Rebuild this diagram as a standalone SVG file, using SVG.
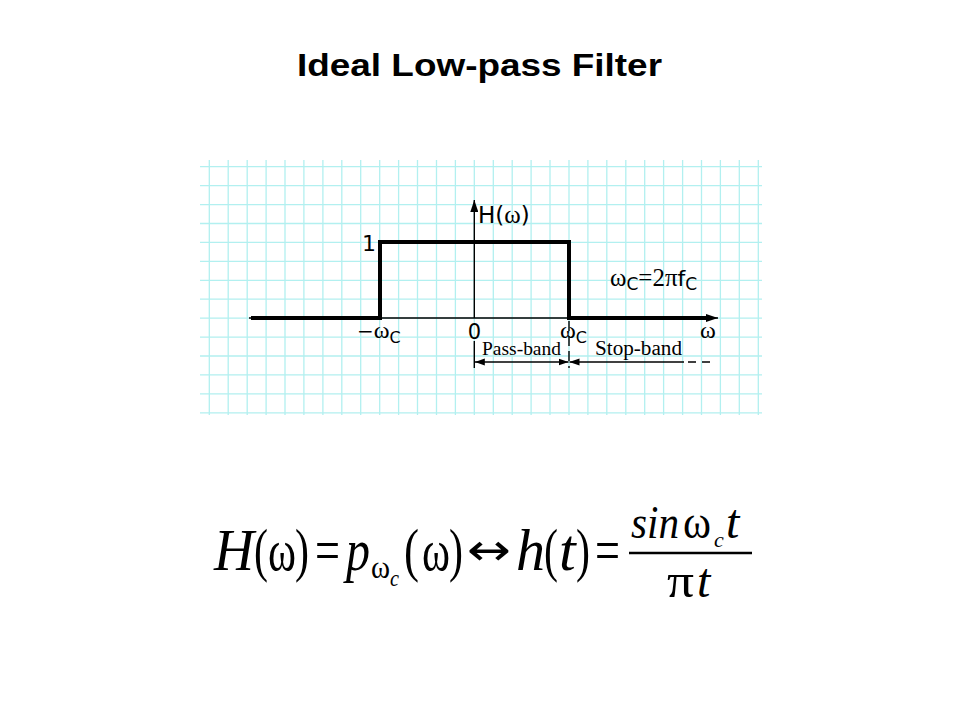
<svg xmlns="http://www.w3.org/2000/svg" width="960" height="720" viewBox="0 0 960 720">
<style>
.grid{stroke:#b2f0f0;stroke-width:1.3;fill:none}
.thin{stroke:#000;stroke-width:1.4;fill:none}
.thick{stroke:#000;stroke-width:4;fill:none;stroke-linejoin:miter;stroke-linecap:square}
.sans{font-family:"DejaVu Sans","Liberation Sans",sans-serif;fill:#000}
.serif{font-family:"Liberation Serif","Times New Roman",serif;fill:#000}
.it{font-family:"Liberation Serif","Times New Roman",serif;font-style:italic;fill:#000}
.title{font-family:"Liberation Sans",Arial,sans-serif;font-weight:bold;font-size:31px;fill:#000}
</style>
<defs>
<marker id="axArrow" markerUnits="userSpaceOnUse" markerWidth="12" markerHeight="8" refX="12" refY="4" orient="auto"><path d="M0,0 L12,4 L0,8 z" fill="#000"/></marker>
<marker id="dimArrow" markerUnits="userSpaceOnUse" markerWidth="10" markerHeight="8" refX="10" refY="4" orient="auto-start-reverse"><path d="M0,0.6 L10,4 L0,7.4 z" fill="#000"/></marker>
</defs>
<rect width="960" height="720" fill="#fff"/>
<text id="title" class="title" x="297" y="76" textLength="365" lengthAdjust="spacingAndGlyphs">Ideal Low-pass Filter</text>

<g id="grid" class="grid">
<path d="M209.3,160V415M228.2,160V415M247.2,160V415M266.1,160V415M285,160V415M303.9,160V415M322.9,160V415M341.8,160V415M360.7,160V415M379.7,160V415M398.6,160V415M417.5,160V415M436.5,160V415M455.4,160V415M474.3,160V415M493.3,160V415M512.2,160V415M531.1,160V415M550,160V415M569,160V415M587.9,160V415M606.8,160V415M625.8,160V415M644.7,160V415M663.6,160V415M682.6,160V415M701.5,160V415M720.4,160V415M739.3,160V415M758.3,160V415"/>
<path d="M200,166.7H762M200,185.6H762M200,204.6H762M200,223.5H762M200,242.4H762M200,261.4H762M200,280.3H762M200,299.2H762M200,318.1H762M200,337.1H762M200,356H762M200,374.9H762M200,393.9H762M200,412.8H762"/>
</g>

<g id="connectors">
<line class="thin" x1="249" y1="318" x2="718" y2="318" marker-end="url(#axArrow)"/>
<line class="thin" x1="474.3" y1="318" x2="474.3" y2="200" marker-end="url(#axArrow)"/>
<path class="thick" d="M253,318H380V242H569V318H706"/>
<line class="thin" x1="474.3" y1="341" x2="474.3" y2="368"/>
<line class="thin" x1="569" y1="321" x2="569" y2="368" stroke-dasharray="10 5"/>
<line class="thin" x1="474.8" y1="362" x2="568.5" y2="362" marker-start="url(#dimArrow)" marker-end="url(#dimArrow)"/>
<line class="thin" x1="569.5" y1="362" x2="684" y2="362" marker-start="url(#dimArrow)"/>
<line class="thin" x1="688" y1="362" x2="716" y2="362" stroke-dasharray="8 6"/>
</g>

<g id="labels">
<text class="sans" x="376" y="251" font-size="22" text-anchor="end">1</text>
<text class="sans" x="478" y="223" font-size="23">H(<tspan class="serif" font-size="25">ω</tspan>)</text>
<text class="sans" x="474.5" y="339" font-size="21" text-anchor="middle">0</text>
<text class="sans" x="357" y="338" font-size="20">−<tspan class="serif" font-size="24">ω</tspan><tspan font-size="16" dy="5">C</tspan></text>
<text class="serif" x="560" y="338" font-size="24">ω<tspan class="sans" font-size="16" dy="5">C</tspan></text>
<text class="serif" x="700" y="338" font-size="24">ω</text>
<text class="serif" x="610" y="286" font-size="25">ω<tspan class="sans" font-size="17" dy="4">C</tspan><tspan dy="-4">=2π</tspan><tspan class="sans" font-size="22">f</tspan><tspan class="sans" font-size="17" dy="4">C</tspan></text>
<text class="serif" x="482" y="355" font-size="19.5" textLength="79" lengthAdjust="spacingAndGlyphs">Pass-band</text>
<text class="serif" x="595" y="355" font-size="20" textLength="87" lengthAdjust="spacingAndGlyphs">Stop-band</text>
</g>

<g id="formula">
<text class="it" x="214" y="570" font-size="60" textLength="40" lengthAdjust="spacingAndGlyphs">H</text>
<text class="serif" x="254" y="570" font-size="60" textLength="14" lengthAdjust="spacingAndGlyphs">(</text>
<text class="serif" x="268" y="570" font-size="60" textLength="28" lengthAdjust="spacingAndGlyphs">ω</text>
<text class="serif" x="295" y="570" font-size="60" textLength="14" lengthAdjust="spacingAndGlyphs">)</text>
<text class="serif" x="315" y="570" font-size="60" textLength="25" lengthAdjust="spacingAndGlyphs">=</text>
<text class="it" x="346" y="570" font-size="60" textLength="24" lengthAdjust="spacingAndGlyphs">p</text>
<text class="serif" x="371" y="578" font-size="32" textLength="19" lengthAdjust="spacingAndGlyphs">ω</text>
<text class="it" x="390" y="586" font-size="24" textLength="9" lengthAdjust="spacingAndGlyphs">c</text>
<text class="serif" x="404" y="570" font-size="60" textLength="15" lengthAdjust="spacingAndGlyphs">(</text>
<text class="serif" x="422" y="570" font-size="60" textLength="28" lengthAdjust="spacingAndGlyphs">ω</text>
<text class="serif" x="449" y="570" font-size="60" textLength="14" lengthAdjust="spacingAndGlyphs">)</text>
<text class="sans" x="467" y="565" font-size="44" textLength="44" lengthAdjust="spacingAndGlyphs">↔</text>
<text class="it" x="516" y="570" font-size="60" textLength="29" lengthAdjust="spacingAndGlyphs">h</text>
<text class="serif" x="544" y="570" font-size="60" textLength="14" lengthAdjust="spacingAndGlyphs">(</text>
<text class="it" x="559" y="570" font-size="60">t</text>
<text class="serif" x="576" y="570" font-size="60" textLength="14" lengthAdjust="spacingAndGlyphs">)</text>
<text class="serif" x="595" y="570" font-size="60" textLength="25" lengthAdjust="spacingAndGlyphs">=</text>
<line x1="629" y1="553" x2="752" y2="553" stroke="#000" stroke-width="2.5"/>
<text class="it" x="631" y="538" font-size="46" textLength="48" lengthAdjust="spacingAndGlyphs">sin</text>
<text class="serif" x="683" y="538" font-size="46" textLength="28" lengthAdjust="spacingAndGlyphs">ω</text>
<text class="it" x="714" y="547" font-size="22">c</text>
<text class="it" x="726" y="538" font-size="48">t</text>
<text class="serif" x="667" y="597" font-size="48" textLength="27" lengthAdjust="spacingAndGlyphs">π</text>
<text class="it" x="697" y="597" font-size="48">t</text>
</g>
</svg>
